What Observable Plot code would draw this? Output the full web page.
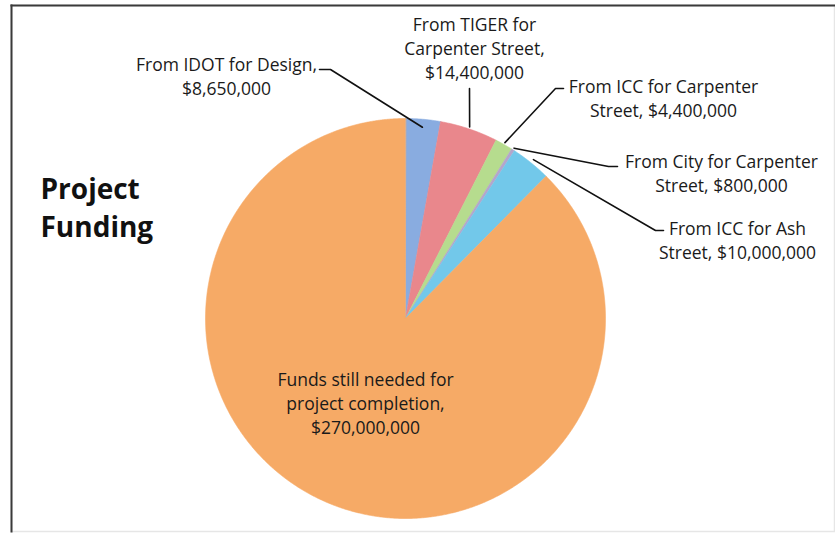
<!DOCTYPE html>
<html>
<head>
<meta charset="utf-8">
<script src="https://cdn.jsdelivr.net/npm/d3@7"></script>
<script src="https://cdn.jsdelivr.net/npm/@observablehq/plot@0.6"></script>
<style>
  html, body { margin: 0; padding: 0; background: #fff; }
  #chart svg { display: block; }
</style>
</head>
<body>
<div id="chart"></div>
<script>
// ---- data ----
const categories = [
  "From IDOT for Design",
  "From TIGER for Carpenter Street",
  "From ICC for Carpenter Street",
  "From City for Carpenter Street",
  "From ICC for Ash Street",
  "Funds still needed for project completion"
];
const values = [8650000, 14400000, 4400000, 800000, 10000000, 270000000];
const labelTexts = [
  "From IDOT for Design,\n$8,650,000",
  "From TIGER for\nCarpenter Street,\n$14,400,000",
  "From ICC for Carpenter\nStreet, $4,400,000",
  "From City for Carpenter\nStreet, $800,000",
  "From ICC for Ash\nStreet, $10,000,000",
  "Funds still needed for\nproject completion,\n$270,000,000"
];
const title = "Project\nFunding";

// ---- style / layout ----
const colors = ["#89ace0", "#e9878c", "#b6dc8e", "#b4a6cc", "#72c8ea", "#f6aa66"];
const W = 835, H = 535;
const CX = 405, CY = 318, R = 200;           // pie centre & radius in pixels
const ux = px => (px - CX) / R;              // pixel -> data units
const uy = py => (CY - py) / R;
const FS = 17.5, LH = 1.36;                  // label font size & line height
// label layout (pixel): centre of first text line, elbow point, end of tick
const labelLayout = [
  {tx: 226, ty: 63,  elbow: [330, 69],  tick: [319, 69]},
  {tx: 474, ty: 23,  elbow: [469, 88],  tick: null},
  {tx: 663, ty: 85,  elbow: [555, 88],  tick: [563, 88]},
  {tx: 721, ty: 160, elbow: [608, 166], tick: [617, 166]},
  {tx: 737, ty: 227, elbow: [655, 230], tick: [663, 230]},
  {tx: 365, ty: 378, elbow: null,       tick: null}
];
const leaderR = [0.96, 1.01, 1.01, 1.01, 1.02];

// ---- geometry from data ----
const arcs = d3.pie().sort(null).value(d => d)(values);
const slicePts = [];
arcs.forEach((a, i) => {
  slicePts.push({i, x: 0, y: 0});
  const n = Math.max(2, Math.ceil((a.endAngle - a.startAngle) / 0.005));
  for (let k = 0; k <= n; k++) {
    const t = a.startAngle + (a.endAngle - a.startAngle) * k / n;
    slicePts.push({i, x: Math.sin(t), y: Math.cos(t)});
  }
});

const leaderPts = [];
arcs.forEach((a, i) => {
  const L = labelLayout[i];
  if (!L.elbow) return;
  const m = (a.startAngle + a.endAngle) / 2;
  const r = leaderR[i];
  leaderPts.push({i, x: r * Math.sin(m), y: r * Math.cos(m)});
  leaderPts.push({i, x: ux(L.elbow[0]), y: uy(L.elbow[1])});
  if (L.tick) leaderPts.push({i, x: ux(L.tick[0]), y: uy(L.tick[1])});
});

const labels = labelTexts.map((t, i) => {
  const n = t.split("\n").length;
  return {text: t, x: ux(labelLayout[i].tx), y: uy(labelLayout[i].ty + (n - 1) * FS * LH / 2)};
});

const font = "'Open Sans', 'Noto Sans', sans-serif";

const chart = Plot.plot({
  width: W,
  height: H,
  marginLeft: 11, marginTop: 5, marginRight: 1, marginBottom: 4,
  x: {domain: [ux(0), ux(W)], range: [0, W], axis: null},
  y: {domain: [uy(H), uy(0)], range: [H, 0], axis: null},
  color: {type: "identity"},
  style: {background: "#fff", fontFamily: font},
  marks: [
    Plot.frame({stroke: "#e6e6e6", strokeWidth: 1.5}),
    Plot.frame({anchor: "left", stroke: "#3a3a3a", strokeWidth: 2}),
    Plot.frame({anchor: "top", stroke: "#3a3a3a", strokeWidth: 2}),
    Plot.line(slicePts, {
      x: "x", y: "y", z: "i",
      fill: d => colors[d.i], stroke: d => colors[d.i], strokeWidth: 0.6,
      curve: "linear-closed"
    }),
    Plot.line(leaderPts, {x: "x", y: "y", z: "i", stroke: "#111", strokeWidth: 1.6}),
    Plot.text(labels, {
      x: "x", y: "y", text: "text",
      textAnchor: "middle", lineAnchor: "middle",
      fontSize: FS, lineHeight: LH, fill: "#1a1a1a"
    }),
    Plot.text([title], {
      x: ux(40), y: uy(205), text: d => d,
      textAnchor: "start", lineAnchor: "middle",
      fontSize: 28, fontWeight: "bold", lineHeight: 1.36, fill: "#111"
    })
  ]
});
document.getElementById("chart").appendChild(chart);
</script>
</body>
</html>
